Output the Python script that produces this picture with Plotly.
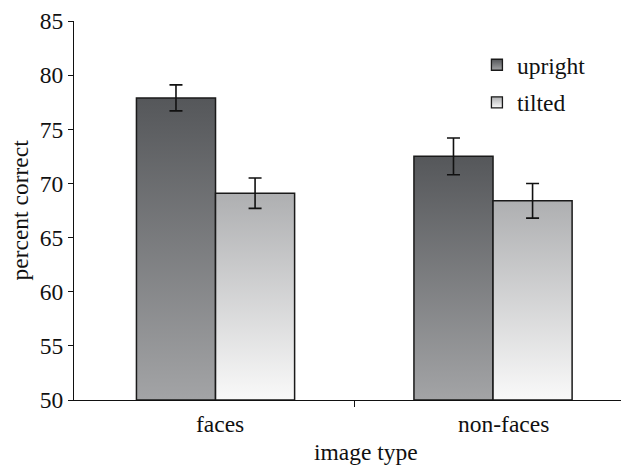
import plotly.graph_objects as go

categories = ["faces", "non-faces"]
series_names = ["upright", "tilted"]
upright_values = [77.9, 72.5]
upright_errors = [1.2, 1.7]
tilted_values = [69.1, 68.4]
tilted_errors = [1.4, 1.6]
y_ticks = [50, 55, 60, 65, 70, 75, 80, 85]

FONT = "Liberation Serif"
BASE = 50
BAR_W = 0.285
styles = {
    "upright": dict(top="#55575a", bottom="#a3a4a6", offset=-BAR_W / 2),
    "tilted": dict(top="#aeafb1", bottom="#f9f9f9", offset=BAR_W / 2),
}
series = {
    "upright": (upright_values, upright_errors),
    "tilted": (tilted_values, tilted_errors),
}

fig = go.Figure()

# gradient-filled bars (polygons built from data values)
for name in series_names:
    vals, errs = series[name]
    st = styles[name]
    for i, v in enumerate(vals):
        cx = i + st["offset"]
        x0, x1 = cx - BAR_W / 2, cx + BAR_W / 2
        fig.add_trace(go.Scatter(
            x=[x0, x1, x1, x0, x0], y=[BASE, BASE, v, v, BASE],
            mode="lines", fill="toself",
            fillgradient=dict(type="vertical",
                              colorscale=[[0, st["bottom"]], [1, st["top"]]]),
            line=dict(color="#1a1a1a", width=1.5),
            showlegend=False, hoverinfo="skip",
        ))

# error bars
for name in series_names:
    vals, errs = series[name]
    st = styles[name]
    fig.add_trace(go.Scatter(
        x=[i + st["offset"] for i in range(len(vals))], y=vals,
        mode="markers", marker=dict(size=0.1, color="rgba(0,0,0,0)"),
        error_y=dict(type="data", array=errs, visible=True,
                     color="#111111", thickness=1.6, width=6.5),
        showlegend=False, hoverinfo="skip",
    ))

# legend entries
for name in series_names:
    st = styles[name]
    fig.add_trace(go.Scatter(
        x=[None], y=[None], mode="markers", name=name,
        marker=dict(symbol="square", size=11, color=st["top"],
                    gradient=dict(type="vertical", color=st["bottom"]),
                    line=dict(color="#1a1a1a", width=1.3)),
        legendgroup=name,
    ))

PLOT_W = 555
label_shift = {"faces": 4, "non-faces": 10}
annotations = []
for i, c in enumerate(categories):
    annotations.append(dict(
        x=i, y=0, xref="x", yref="paper", text=c, showarrow=False,
        xanchor="center", yanchor="middle", yshift=-24, xshift=label_shift[c],
        font=dict(family=FONT, size=23.5, color="#111111")))
annotations.append(dict(
    x=(366 - 74) / PLOT_W, y=0, xref="paper", yref="paper", text="image type",
    showarrow=False, xanchor="center", yanchor="middle", yshift=-52,
    font=dict(family=FONT, size=23.5, color="#111111")))
annotations.append(dict(
    x=0, y=0.5, xref="paper", yref="paper", text="percent correct",
    showarrow=False, xanchor="center", yanchor="middle", xshift=-55,
    textangle=-90, font=dict(family=FONT, size=23.5, color="#111111")))

# page body has an 8px margin, so the figure is 8px smaller than the window
fig.update_layout(
    width=621, height=457,
    margin=dict(l=66, r=0, t=11, b=65),
    plot_bgcolor="white", paper_bgcolor="white",
    font=dict(family=FONT, size=23.5, color="#111111"),
    showlegend=True,
    legend=dict(x=0.726, y=0.942, xanchor="left", yanchor="top",
                bgcolor="rgba(0,0,0,0)", tracegroupgap=4,
                font=dict(family=FONT, size=23.5, color="#111111")),
    xaxis=dict(range=[-0.51, 1.49], showgrid=False, zeroline=False,
               showline=True, linecolor="#111111", linewidth=1.3,
               tickvals=[0.5], ticktext=[""], ticks="outside", ticklen=6,
               tickcolor="#111111", tickwidth=1.3),
    yaxis=dict(range=[50, 85], tickvals=y_ticks, showgrid=False, zeroline=False,
               showline=True, linecolor="#111111", linewidth=1.3,
               ticks="outside", ticklen=5, tickcolor="#111111", tickwidth=1.3,
               ticklabeloverflow="allow",
               tickfont=dict(family=FONT, size=23.5, color="#111111")),
    annotations=annotations,
)

fig.write_html("out.html")
